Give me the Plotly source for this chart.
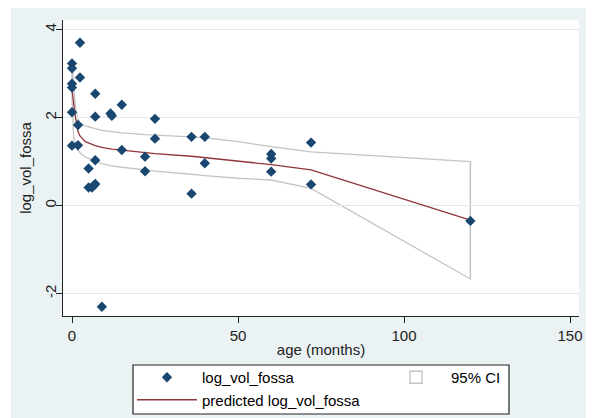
import plotly.graph_objects as go

# ---- data ----
obs_age = [0, 0, 2.4, 2.4, 0, 0, 0, 1.8, 0, 1.8, 7, 7, 11.6, 12, 15, 25, 25, 36, 40, 40,
           36, 15, 22, 22, 7, 5, 5, 6, 6.5, 7, 9, 72, 60, 60, 60, 72, 120]
obs_log_vol = [3.23, 3.12, 3.70, 2.91, 2.77, 2.68, 2.12, 1.83, 1.36, 1.37, 2.54, 2.02, 2.09, 2.04,
               2.29, 1.97, 1.52, 1.56, 1.56, 0.96, 0.27, 1.26, 1.11, 0.78, 1.03, 0.84, 0.41,
               0.41, 0.45, 0.49, -2.30, 1.43, 1.17, 1.07, 0.77, 0.48, -0.35]

fit_age = [0, 0.5, 1, 1.8, 2.4, 4, 5, 7, 9, 12, 15, 22, 25, 36, 40, 50, 60, 72, 120]
fit_pred = [2.63, 2.30, 2.02, 1.68, 1.58, 1.45, 1.42, 1.36, 1.32, 1.28, 1.26, 1.20, 1.18,
            1.12, 1.09, 1.01, 0.93, 0.81, -0.33]
fit_upper = [3.32, 2.78, 2.25, 1.96, 1.88, 1.81, 1.79, 1.75, 1.71, 1.68, 1.65, 1.61, 1.60,
             1.56, 1.54, 1.45, 1.34, 1.22, 1.00]
fit_lower = [2.45, 1.55, 1.38, 1.26, 1.20, 1.10, 1.07, 1.00, 0.95, 0.90, 0.87, 0.81, 0.78,
             0.71, 0.68, 0.62, 0.58, 0.39, -1.67]

x_ticks = [0, 50, 100, 150]
y_ticks = [-2, 0, 2, 4]

# ---- styling ----
BG = "#eaf2f3"
GRID = "#e0eaed"
NAVY = "#1a476f"
MAROON = "#90353b"
CIGRAY = "#c4c4c4"
FONT = "Liberation Sans, Arial, sans-serif"

OFF = 8                      # default page (body) margin of the html page
W, H = 594 - OFF, 418 - OFF  # visible part of the window
# plot area in page pixels: x 63..579, y 20..316
L, R, T, B = 63 - OFF, (594 - 579), 20 - OFF, (418 - 316)
PW, PH = W - L - R, H - T - B


def px_x(p):
    """page pixel x -> paper fraction"""
    return (p - OFF - L) / PW


def px_y(p):
    """page pixel y -> paper fraction"""
    return (H - B - (p - OFF)) / PH


fig = go.Figure()

# 95% CI band outline as a closed path shape in data coordinates (built from the arrays)
ci_x = fit_age + fit_age[::-1]
ci_y = fit_upper + fit_lower[::-1]
ci_path = "M " + " L ".join(f"{a},{b}" for a, b in zip(ci_x, ci_y)) + " Z"

fig.add_trace(go.Scatter(
    x=fit_age, y=fit_pred, mode="lines",
    line=dict(color=MAROON, width=1.3),
    name="predicted log_vol_fossa", legendrank=3, legend="legend",
    legendgroup="b",
))
fig.add_trace(go.Scatter(
    x=obs_age, y=obs_log_vol, mode="markers",
    marker=dict(symbol="diamond", size=8, color=NAVY, line=dict(width=0)),
    name="log_vol_fossa", legendrank=1, legend="legend", legendgroup="a",
))

shapes = [
    dict(type="path", xref="x", yref="y", path=ci_path,
         fillcolor="rgba(255,255,255,0)", line=dict(color=CIGRAY, width=1.3),
         layer="below"),
    # closing edge of the CI band at the last age, carries the legend entry
    dict(type="rect", xref="x", yref="y",
         x0=fit_age[-1], x1=fit_age[-1], y0=fit_lower[-1], y1=fit_upper[-1],
         fillcolor="white", line=dict(color=CIGRAY, width=1.3), layer="below",
         showlegend=True, name="95% CI", legend="legend2"),
    # white strip on the left edge of the image
    dict(type="rect", xref="paper", yref="paper", x0=px_x(0), x1=px_x(11),
         y0=px_y(430), y1=px_y(0), fillcolor="white", line=dict(width=0), layer="below"),
    # legend frame
    dict(type="rect", xref="paper", yref="paper", x0=px_x(133), x1=px_x(509),
         y0=px_y(414), y1=px_y(365), fillcolor="white",
         line=dict(color="#222222", width=1.2), layer="below"),
]

legend_common = dict(
    xref="paper", yref="paper", xanchor="left", yanchor="top",
    bgcolor="rgba(0,0,0,0)", borderwidth=0,
    font=dict(family=FONT, size=15, color="black"),
    itemwidth=60, orientation="v", tracegroupgap=0,
)

fig.update_layout(
    width=W, height=H,
    margin=dict(l=L, r=R, t=T, b=B, pad=0, autoexpand=False),
    paper_bgcolor=BG, plot_bgcolor="white",
    font=dict(family=FONT, size=14, color="#222222"),
    shapes=shapes,
    showlegend=True,
    legend=dict(x=px_x(132), y=px_y(361), traceorder="grouped", **legend_common),
    legend2=dict(x=px_x(381), y=px_y(361), **legend_common),
    xaxis=dict(
        range=[(63 - 72) / 3.32, (579 - 72) / 3.32],
        tickvals=x_ticks, ticktext=[str(v) for v in x_ticks],
        ticks="outside", ticklen=6, tickcolor="#222222", tickwidth=1,
        showline=True, linecolor="#222222", linewidth=1.2,
        showgrid=False, zeroline=False,
        tickfont=dict(size=15),
        title=dict(text="age (months)", font=dict(size=15), standoff=1),
    ),
    yaxis=dict(
        range=[-2.511, 4.216],
        tickvals=y_ticks, ticktext=[str(v) for v in y_ticks],
        tickangle=-90, ticklabelstandoff=-6,
        ticks="outside", ticklen=6, tickcolor="#222222", tickwidth=1,
        showline=True, linecolor="#222222", linewidth=1.2,
        showgrid=True, gridcolor=GRID, gridwidth=1, zeroline=False,
        tickfont=dict(size=15),
        title=dict(text="log_vol_fossa", font=dict(size=15), standoff=6),
    ),
)

fig.write_html("out.html")
